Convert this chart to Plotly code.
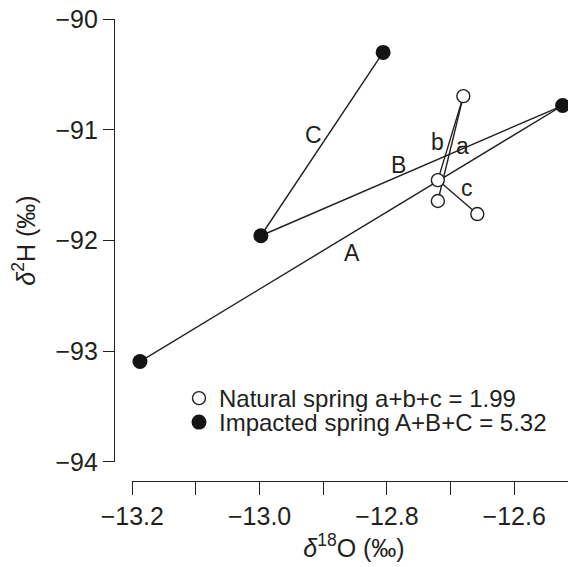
import plotly.graph_objects as go

# ---- data ----
natural_x = [-12.680, -12.720, -12.720, -12.658]
natural_y = [-90.695, -91.454, -91.643, -91.761]
natural_pairs = [(0, 1), (0, 2), (1, 3)]          # a, b, c
natural_labels = ["a", "b", "c"]
natural_label_x = [-12.682, -12.720, -12.674]
natural_label_y = [-91.147, -91.110, -91.526]

impacted_x = [-13.188, -12.998, -12.806, -12.524]
impacted_y = [-93.094, -91.957, -90.300, -90.780]
impacted_pairs = [(0, 3), (1, 3), (1, 2)]         # A, B, C
impacted_labels = ["A", "B", "C"]
impacted_label_x = [-12.855, -12.782, -12.916]
impacted_label_y = [-92.113, -91.318, -91.047]

x_tickvals = [-13.2, -13.1, -13.0, -12.9, -12.8, -12.7, -12.6]
x_ticktext = ["\u221213.2", "", "\u221213.0", "", "\u221212.8", "", "\u221212.6"]
y_tickvals = [-94, -93, -92, -91, -90]
y_ticktext = ["\u221294", "\u221293", "\u221292", "\u221291", "\u221290"]

natural_name = "Natural spring a+b+c = 1.99"
impacted_name = "Impacted spring A+B+C = 5.32"

INK = "#231f20"
FONT = "Liberation Sans, Arial, sans-serif"

fig = go.Figure()

# connecting lines
for pairs, xs, ys in [(natural_pairs, natural_x, natural_y),
                      (impacted_pairs, impacted_x, impacted_y)]:
    for i, j in pairs:
        fig.add_trace(go.Scatter(
            x=[xs[i], xs[j]], y=[ys[i], ys[j]], mode="lines",
            line=dict(color=INK, width=1.4), showlegend=False,
            hoverinfo="skip", cliponaxis=False))

# points
fig.add_trace(go.Scatter(
    x=natural_x, y=natural_y, mode="markers", name=natural_name,
    marker=dict(symbol="circle", size=13, color="white",
                line=dict(color=INK, width=1.4)),
    cliponaxis=False, legend="legend"))
fig.add_trace(go.Scatter(
    x=impacted_x, y=impacted_y, mode="markers", name=impacted_name,
    marker=dict(symbol="circle", size=15, color="#141414",
                line=dict(width=0)),
    cliponaxis=False, legend="legend2"))

# segment labels
for lx, ly, t in zip(natural_label_x + impacted_label_x,
                     natural_label_y + impacted_label_y,
                     natural_labels + impacted_labels):
    fig.add_annotation(x=lx, y=ly, text=t, showarrow=False,
                       font=dict(family=FONT, size=23, color=INK),
                       xanchor="center", yanchor="middle")

# page has an 8px body margin, so the figure is 8px smaller and shifted
OFF = 8
W, H = 576 - OFF, 567 - OFF
ml, mr, mt, mb = 114 - OFF, 0, 19 - OFF, 86
pw = W - ml - mr
ph = H - mt - mb
AXB = 481  # page pixel of x-axis line
EPS = 0.002

fig.update_layout(
    width=W, height=H,
    margin=dict(l=ml, r=mr, t=mt, b=mb, autoexpand=False),
    paper_bgcolor="white", plot_bgcolor="white",
    font=dict(family=FONT, size=25, color=INK),
    xaxis=dict(
        domain=[18 / pw, 1], range=[-13.2 - EPS / 4, -13.2 + 444 / 637],
        anchor="free", position=0,
        tickvals=x_tickvals, ticktext=x_ticktext,
        ticks="outside", ticklen=13, tickwidth=1.4, tickcolor=INK,
        showline=True, linecolor=INK, linewidth=1.4,
        showgrid=False, zeroline=False, ticklabeloverflow="allow",
        tickfont=dict(family=FONT, size=25, color=INK),
        title=dict(text="<i>\u03b4</i><sup>18</sup>O (\u2030)",
                   font=dict(family=FONT, size=25, color=INK), standoff=8),
    ),
    yaxis=dict(
        domain=[19 / ph, 1], range=[-94 - EPS, -90 + EPS],
        anchor="free", position=0,
        tickvals=y_tickvals, ticktext=y_ticktext,
        ticks="outside", ticklen=11, tickwidth=1.4, tickcolor=INK,
        showline=True, linecolor=INK, linewidth=1.4,
        showgrid=False, zeroline=False, ticklabeloverflow="allow",
        tickfont=dict(family=FONT, size=25, color=INK),
        title=dict(text="<i>\u03b4</i><sup>2</sup>H (\u2030)",
                   font=dict(family=FONT, size=25, color=INK), standoff=16),
    ),
    legend=dict(x=(179 - 114) / pw, y=(AXB - 376) / ph, xanchor="left",
                yanchor="top", bgcolor="rgba(0,0,0,0)", borderwidth=0,
                font=dict(family=FONT, size=24, color=INK),
                itemwidth=30, tracegroupgap=0),
    legend2=dict(x=(179 - 114) / pw, y=(AXB - 400) / ph, xanchor="left",
                 yanchor="top", bgcolor="rgba(0,0,0,0)", borderwidth=0,
                 font=dict(family=FONT, size=24, color=INK),
                 itemwidth=30, tracegroupgap=0),
    showlegend=True,
)

fig.write_html("out.html")
